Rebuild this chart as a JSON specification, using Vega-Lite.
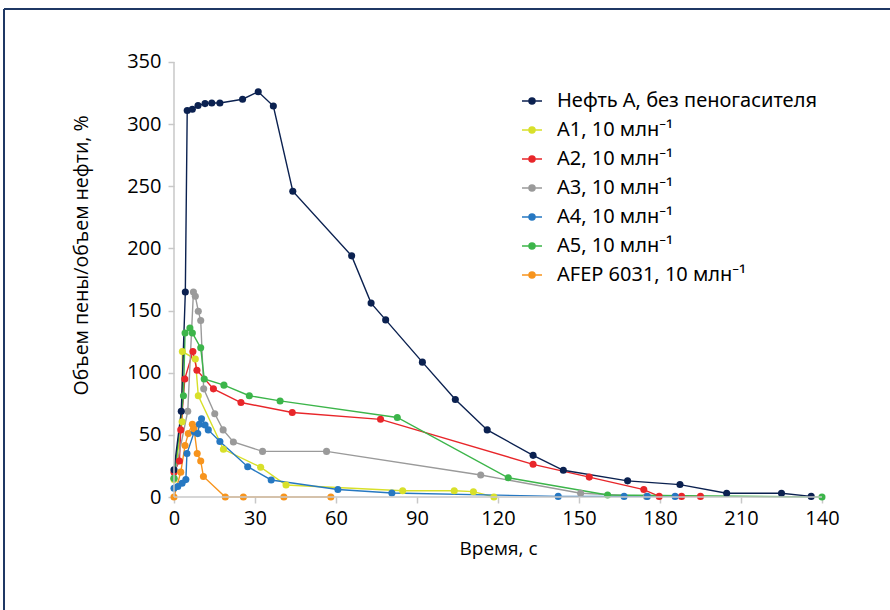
{
  "$schema": "https://vega.github.io/schema/vega-lite/v6.json",
  "width": 886,
  "height": 601,
  "autosize": {"type": "none"},
  "padding": {"left": 4, "top": 9, "right": 0, "bottom": 0},
  "background": "white",
  "config": {"view": {"stroke": null}},
  "data": {
    "values": [
      {"series": "A1, 10 млн⁻¹", "i": 0, "t": 0, "v": 14},
      {"series": "A1, 10 млн⁻¹", "i": 1, "t": 3, "v": 60.5},
      {"series": "A1, 10 млн⁻¹", "i": 2, "t": 3.1, "v": 117},
      {"series": "A1, 10 млн⁻¹", "i": 3, "t": 7.9, "v": 111},
      {"series": "A1, 10 млн⁻¹", "i": 4, "t": 9, "v": 81.5},
      {"series": "A1, 10 млн⁻¹", "i": 5, "t": 18.3, "v": 38.4},
      {"series": "A1, 10 млн⁻¹", "i": 6, "t": 32.1, "v": 24},
      {"series": "A1, 10 млн⁻¹", "i": 7, "t": 41.5, "v": 9.7},
      {"series": "A1, 10 млн⁻¹", "i": 8, "t": 84.7, "v": 5},
      {"series": "A1, 10 млн⁻¹", "i": 9, "t": 103.8, "v": 5},
      {"series": "A1, 10 млн⁻¹", "i": 10, "t": 110.9, "v": 4.3},
      {"series": "A1, 10 млн⁻¹", "i": 11, "t": 118.5, "v": 0},

      {"series": "A2, 10 млн⁻¹", "i": 0, "t": 0, "v": 20},
      {"series": "A2, 10 млн⁻¹", "i": 1, "t": 2, "v": 29},
      {"series": "A2, 10 млн⁻¹", "i": 2, "t": 2.5, "v": 54},
      {"series": "A2, 10 млн⁻¹", "i": 3, "t": 4, "v": 95},
      {"series": "A2, 10 млн⁻¹", "i": 4, "t": 7, "v": 117},
      {"series": "A2, 10 млн⁻¹", "i": 5, "t": 8.5, "v": 102},
      {"series": "A2, 10 млн⁻¹", "i": 6, "t": 14.6, "v": 87},
      {"series": "A2, 10 млн⁻¹", "i": 7, "t": 24.8, "v": 76},
      {"series": "A2, 10 млн⁻¹", "i": 8, "t": 43.8, "v": 68},
      {"series": "A2, 10 млн⁻¹", "i": 9, "t": 76.5, "v": 62.5},
      {"series": "A2, 10 млн⁻¹", "i": 10, "t": 133, "v": 26.3},
      {"series": "A2, 10 млн⁻¹", "i": 11, "t": 153.8, "v": 16},
      {"series": "A2, 10 млн⁻¹", "i": 12, "t": 174, "v": 6},
      {"series": "A2, 10 млн⁻¹", "i": 13, "t": 179.7, "v": 0.5},
      {"series": "A2, 10 млн⁻¹", "i": 14, "t": 188, "v": 0.5},
      {"series": "A2, 10 млн⁻¹", "i": 15, "t": 195, "v": 0.5},

      {"series": "A3, 10 млн⁻¹", "i": 0, "t": 0, "v": 15},
      {"series": "A3, 10 млн⁻¹", "i": 1, "t": 5.1, "v": 69},
      {"series": "A3, 10 млн⁻¹", "i": 2, "t": 7.2, "v": 165},
      {"series": "A3, 10 млн⁻¹", "i": 3, "t": 7.9, "v": 161.5},
      {"series": "A3, 10 млн⁻¹", "i": 4, "t": 9, "v": 149.5},
      {"series": "A3, 10 млн⁻¹", "i": 5, "t": 9.9, "v": 142},
      {"series": "A3, 10 млн⁻¹", "i": 6, "t": 11, "v": 87},
      {"series": "A3, 10 млн⁻¹", "i": 7, "t": 15.1, "v": 67},
      {"series": "A3, 10 млн⁻¹", "i": 8, "t": 18.2, "v": 54},
      {"series": "A3, 10 млн⁻¹", "i": 9, "t": 22, "v": 44.3},
      {"series": "A3, 10 млн⁻¹", "i": 10, "t": 32.8, "v": 36.7},
      {"series": "A3, 10 млн⁻¹", "i": 11, "t": 56.5, "v": 36.7},
      {"series": "A3, 10 млн⁻¹", "i": 12, "t": 113.6, "v": 17.7},
      {"series": "A3, 10 млн⁻¹", "i": 13, "t": 150.6, "v": 3},
      {"series": "A3, 10 млн⁻¹", "i": 14, "t": 175, "v": 0.5},

      {"series": "A4, 10 млн⁻¹", "i": 0, "t": 0, "v": 7},
      {"series": "A4, 10 млн⁻¹", "i": 1, "t": 1.4, "v": 8.5},
      {"series": "A4, 10 млн⁻¹", "i": 2, "t": 3, "v": 11},
      {"series": "A4, 10 млн⁻¹", "i": 3, "t": 4.4, "v": 14},
      {"series": "A4, 10 млн⁻¹", "i": 4, "t": 4.8, "v": 35},
      {"series": "A4, 10 млн⁻¹", "i": 5, "t": 7.5, "v": 52.5},
      {"series": "A4, 10 млн⁻¹", "i": 6, "t": 8.8, "v": 51},
      {"series": "A4, 10 млн⁻¹", "i": 7, "t": 9.4, "v": 58.5},
      {"series": "A4, 10 млн⁻¹", "i": 8, "t": 10.2, "v": 63},
      {"series": "A4, 10 млн⁻¹", "i": 9, "t": 11.5, "v": 58},
      {"series": "A4, 10 млн⁻¹", "i": 10, "t": 12.7, "v": 54},
      {"series": "A4, 10 млн⁻¹", "i": 11, "t": 17, "v": 44.7},
      {"series": "A4, 10 млн⁻¹", "i": 12, "t": 27.3, "v": 24.4},
      {"series": "A4, 10 млн⁻¹", "i": 13, "t": 36, "v": 13.7},
      {"series": "A4, 10 млн⁻¹", "i": 14, "t": 60.7, "v": 6},
      {"series": "A4, 10 млн⁻¹", "i": 15, "t": 80.7, "v": 3.2},
      {"series": "A4, 10 млн⁻¹", "i": 16, "t": 142.3, "v": 0.5},
      {"series": "A4, 10 млн⁻¹", "i": 17, "t": 166.7, "v": 0.5},
      {"series": "A4, 10 млн⁻¹", "i": 18, "t": 175.3, "v": 0.5},
      {"series": "A4, 10 млн⁻¹", "i": 19, "t": 185.6, "v": 0.5},

      {"series": "A5, 10 млн⁻¹", "i": 0, "t": 0, "v": 15},
      {"series": "A5, 10 млн⁻¹", "i": 1, "t": 3.5, "v": 81.5},
      {"series": "A5, 10 млн⁻¹", "i": 2, "t": 4.1, "v": 132},
      {"series": "A5, 10 млн⁻¹", "i": 3, "t": 5.9, "v": 136},
      {"series": "A5, 10 млн⁻¹", "i": 4, "t": 6.8, "v": 132},
      {"series": "A5, 10 млн⁻¹", "i": 5, "t": 9.9, "v": 120},
      {"series": "A5, 10 млн⁻¹", "i": 6, "t": 11.2, "v": 95},
      {"series": "A5, 10 млн⁻¹", "i": 7, "t": 18.5, "v": 90},
      {"series": "A5, 10 млн⁻¹", "i": 8, "t": 27.9, "v": 81.5},
      {"series": "A5, 10 млн⁻¹", "i": 9, "t": 39.3, "v": 77.3},
      {"series": "A5, 10 млн⁻¹", "i": 10, "t": 82.7, "v": 64},
      {"series": "A5, 10 млн⁻¹", "i": 11, "t": 123.8, "v": 15.5},
      {"series": "A5, 10 млн⁻¹", "i": 12, "t": 160.6, "v": 1.6},
      {"series": "A5, 10 млн⁻¹", "i": 13, "t": 240, "v": 0},

      {"series": "AFEP 6031, 10 млн⁻¹", "i": 0, "t": 0, "v": 0},
      {"series": "AFEP 6031, 10 млн⁻¹", "i": 1, "t": 2.5, "v": 20},
      {"series": "AFEP 6031, 10 млн⁻¹", "i": 2, "t": 4.1, "v": 41.5},
      {"series": "AFEP 6031, 10 млн⁻¹", "i": 3, "t": 5.3, "v": 51},
      {"series": "AFEP 6031, 10 млн⁻¹", "i": 4, "t": 6.8, "v": 58.5},
      {"series": "AFEP 6031, 10 млн⁻¹", "i": 5, "t": 7.4, "v": 55},
      {"series": "AFEP 6031, 10 млн⁻¹", "i": 6, "t": 8.6, "v": 35},
      {"series": "AFEP 6031, 10 млн⁻¹", "i": 7, "t": 9.9, "v": 29},
      {"series": "AFEP 6031, 10 млн⁻¹", "i": 8, "t": 10.9, "v": 16.5},
      {"series": "AFEP 6031, 10 млн⁻¹", "i": 9, "t": 19, "v": 0},
      {"series": "AFEP 6031, 10 млн⁻¹", "i": 10, "t": 25.7, "v": 0},
      {"series": "AFEP 6031, 10 млн⁻¹", "i": 11, "t": 40.7, "v": 0},
      {"series": "AFEP 6031, 10 млн⁻¹", "i": 12, "t": 58.1, "v": 0},

      {"series": "Нефть А, без пеногасителя", "i": 0, "t": 0, "v": 22},
      {"series": "Нефть А, без пеногасителя", "i": 1, "t": 2.7, "v": 69},
      {"series": "Нефть А, без пеногасителя", "i": 2, "t": 4.2, "v": 165},
      {"series": "Нефть А, без пеногасителя", "i": 3, "t": 4.9, "v": 311},
      {"series": "Нефть А, без пеногасителя", "i": 4, "t": 6.8, "v": 312},
      {"series": "Нефть А, без пеногасителя", "i": 5, "t": 8.9, "v": 315},
      {"series": "Нефть А, без пеногасителя", "i": 6, "t": 11.5, "v": 316.5},
      {"series": "Нефть А, без пеногасителя", "i": 7, "t": 14, "v": 317},
      {"series": "Нефть А, без пеногасителя", "i": 8, "t": 17, "v": 317},
      {"series": "Нефть А, без пеногасителя", "i": 9, "t": 25.4, "v": 320},
      {"series": "Нефть А, без пеногасителя", "i": 10, "t": 31.2, "v": 326},
      {"series": "Нефть А, без пеногасителя", "i": 11, "t": 36.8, "v": 314.5},
      {"series": "Нефть А, без пеногасителя", "i": 12, "t": 44, "v": 246},
      {"series": "Нефть А, без пеногасителя", "i": 13, "t": 65.8, "v": 194},
      {"series": "Нефть А, без пеногасителя", "i": 14, "t": 73, "v": 156},
      {"series": "Нефть А, без пеногасителя", "i": 15, "t": 78.4, "v": 142.5},
      {"series": "Нефть А, без пеногасителя", "i": 16, "t": 92, "v": 108.5},
      {"series": "Нефть А, без пеногасителя", "i": 17, "t": 104.2, "v": 78.5},
      {"series": "Нефть А, без пеногасителя", "i": 18, "t": 116, "v": 54},
      {"series": "Нефть А, без пеногасителя", "i": 19, "t": 133, "v": 33.5},
      {"series": "Нефть А, без пеногасителя", "i": 20, "t": 144.2, "v": 21.5},
      {"series": "Нефть А, без пеногасителя", "i": 21, "t": 168, "v": 13},
      {"series": "Нефть А, без пеногасителя", "i": 22, "t": 187.4, "v": 10},
      {"series": "Нефть А, без пеногасителя", "i": 23, "t": 204.7, "v": 3},
      {"series": "Нефть А, без пеногасителя", "i": 24, "t": 225, "v": 3},
      {"series": "Нефть А, без пеногасителя", "i": 25, "t": 236, "v": 0.5}
    ]
  },
  "layer": [
    {
      "mark": {"type": "line", "strokeWidth": 1.4, "point": {"filled": true, "size": 50, "opacity": 1}},
      "encoding": {
        "x": {
          "field": "t", "type": "quantitative",
          "scale": {"domain": [-62.96, 265.19], "nice": false, "zero": false},
          "axis": {
            "title": "Время, с",
            "values": [0, 30, 60, 90, 120, 150, 180, 210, 240],
            "labelExpr": "datum.value == 240 ? '140' : datum.label",
            "offset": -113,
            "domain": false, "grid": false,
            "tickColor": "#c8c8c8", "tickWidth": 1.5, "tickSize": 6,
            "labelFont": "Open Sans", "labelFontSize": 20, "labelColor": "#000000", "labelPadding": 5,
            "titleFont": "Open Sans", "titleFontSize": 19, "titleFontWeight": "normal", "titleColor": "#000000",
            "titleX": 494, "titleY": 51, "titleBaseline": "middle", "titleAlign": "center"
          }
        },
        "y": {
          "field": "v", "type": "quantitative",
          "scale": {"domain": [-90.9, 392.6], "nice": false, "zero": false},
          "axis": {
            "title": "Объем пены/объем нефти, %",
            "values": [0, 50, 100, 150, 200, 250, 300, 350],
            "offset": -170,
            "domain": false, "grid": false,
            "tickColor": "#c8c8c8", "tickWidth": 1.5, "tickSize": 6,
            "labelFont": "Open Sans", "labelFontSize": 20, "labelColor": "#000000", "labelPadding": 7,
            "titleFont": "Open Sans", "titleFontSize": 19.5, "titleFontWeight": "normal", "titleColor": "#000000",
            "titleX": -93, "titleY": 246, "titleBaseline": "middle", "titleAlign": "center", "titleAngle": -90
          }
        },
        "color": {
          "field": "series", "type": "nominal",
          "scale": {
            "domain": ["Нефть А, без пеногасителя", "A1, 10 млн⁻¹", "A2, 10 млн⁻¹", "A3, 10 млн⁻¹", "A4, 10 млн⁻¹", "A5, 10 млн⁻¹", "AFEP 6031, 10 млн⁻¹"],
            "range": ["#0b2150", "#d8e02a", "#e8262a", "#9a9a9a", "#2678c2", "#3cb54a", "#f7941d"]
          },
          "legend": {
            "title": null,
            "orient": "none",
            "legendX": 517,
            "legendY": 81,
            "symbolType": "M-1,0L1,0M-0.3,0A0.3,0.3,0,1,1,0.3,0A0.3,0.3,0,1,1,-0.3,0Z",
            "symbolSize": 400,
            "symbolStrokeWidth": 1.5,
            "labelFont": "Noto Sans",
            "labelFontSize": 20,
            "labelColor": "#000000",
            "labelOffset": 14,
            "rowPadding": 8,
            "labelLimit": 400,
            "encode": {"symbols": {"update": {"fill": {"scale": "color", "field": "value"}, "opacity": {"value": 1}}}}
          }
        },
        "order": {"field": "i", "type": "quantitative"}
      }
    },
    {
      "data": {"values": [{}]},
      "mark": {"type": "rule", "color": "#1f3864", "strokeWidth": 2},
      "encoding": {"x": {"datum": -62.96, "type": "quantitative"}}
    },
    {
      "data": {"values": [{}]},
      "mark": {"type": "rule", "color": "#1f3864", "strokeWidth": 2},
      "encoding": {"y": {"datum": 392.6, "type": "quantitative"}}
    },
    {
      "data": {"values": [{}]},
      "mark": {"type": "rule", "color": "#c8c8c8", "strokeWidth": 1.5},
      "encoding": {
        "x": {"datum": 0, "type": "quantitative"},
        "x2": {"datum": 240},
        "y": {"datum": 0, "type": "quantitative"}
      }
    },
    {
      "data": {"values": [{}]},
      "mark": {"type": "rule", "color": "#c8c8c8", "strokeWidth": 1.5},
      "encoding": {
        "x": {"datum": 0, "type": "quantitative"},
        "y": {"datum": 0, "type": "quantitative"},
        "y2": {"datum": 350}
      }
    }
  ]
}
